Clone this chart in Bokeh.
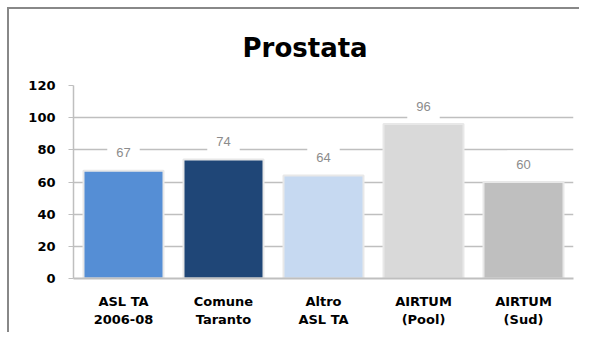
from bokeh.plotting import figure
from bokeh.models import Label, FixedTicker, Range1d, Title
from bokeh.embed import file_html
from bokeh.resources import INLINE

categories = ["ASL TA\n2006-08", "Comune\nTaranto", "Altro\nASL TA", "AIRTUM\n(Pool)", "AIRTUM\n(Sud)"]
values = [67, 74, 64, 96, 60]
colors = ["#558ED5", "#1F4677", "#C6D9F1", "#D9D9D9", "#BFBFBF"]
y_ticks = [0, 20, 40, 60, 80, 100, 120]
title_text = "Prostata"

p = figure(x_range=categories, y_range=Range1d(0, 120), width=572, height=325,
           output_backend="svg", toolbar_location=None, title=None,
           min_border_left=64, min_border_right=8, min_border_top=76, min_border_bottom=56)
p.styles = {"margin-left": "7px", "margin-top": "7px",
            "border-left": "2px solid #888888", "border-top": "2px solid #888888"}
p.outline_line_color = None
p.background_fill_color = "white"
p.border_fill_color = "white"

p.add_layout(Title(text=title_text, align="left", offset=169, standoff=41,
                   vertical_align="top",
                   text_font="DejaVu Sans", text_font_style="bold",
                   text_font_size="26px", text_color="black"), "above")

p.vbar(x=categories, top=values, width=0.8, fill_color=colors,
       line_color="#E8E8E8", line_width=2)

p.xgrid.grid_line_color = None
p.ygrid.grid_line_color = "#BFBFBF"
p.ygrid.grid_line_width = 1.5
p.ygrid.ticker = FixedTicker(ticks=y_ticks)

p.yaxis.ticker = FixedTicker(ticks=y_ticks)
p.yaxis.axis_line_color = "#BFBFBF"
p.yaxis.axis_line_width = 1.5
p.yaxis.major_tick_line_color = "#BFBFBF"
p.yaxis.major_tick_out = 5
p.yaxis.major_tick_in = 0
p.yaxis.minor_tick_line_color = None
p.yaxis.major_label_standoff = 13
p.yaxis.major_label_text_font = "DejaVu Sans"
p.yaxis.major_label_text_font_style = "bold"
p.yaxis.major_label_text_font_size = "13px"
p.yaxis.major_label_text_color = "black"

p.xaxis.axis_line_color = "#BFBFBF"
p.xaxis.axis_line_width = 2
p.xaxis.major_tick_out = 0
p.xaxis.major_tick_in = 0
p.xaxis.major_label_standoff = 15
p.xaxis.major_label_text_font = "DejaVu Sans"
p.xaxis.major_label_text_font_style = "bold"
p.xaxis.major_label_text_font_size = "13px"
p.xaxis.major_label_text_color = "black"
p.xaxis.major_label_text_line_height = 1.2

for i, v in enumerate(values):
    p.add_layout(Label(x=i + 0.5, y=v, y_offset=18, text=str(v),
                       text_align="center", text_baseline="middle",
                       text_font="Liberation Sans", text_font_size="13px",
                       text_color="#8C8C8C", background_fill_color="white",
                       padding=dict(left=9, right=9, top=9, bottom=9)))

open("out.html", "w").write(file_html(p, INLINE))
